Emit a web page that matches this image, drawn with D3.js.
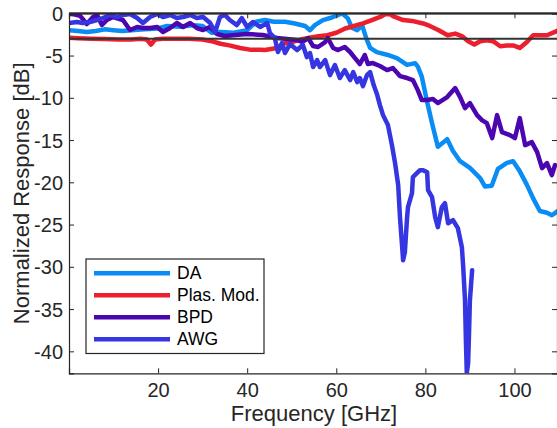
<!DOCTYPE html>
<html>
<head>
<meta charset="utf-8">
<script src="https://cdn.jsdelivr.net/npm/d3@7"></script>
<style>
  body { margin:0; background:#fff; }
  svg { font-family:"Liberation Sans", Arial, sans-serif; }
</style>
</head>
<body>
<div class="chart"></div>
<script>
// [frequency GHz, normalized response dB]
var daData = [[0,-2.0],[2,-2.1],[4,-2.2],[6,-2.1],[8,-1.9],[10,-2.0],[12,-2.1],[14,-2.0],[17,-1.9],[20,-1.8],[22,-1.5],[25,-1.6],[28,-1.4],[30,-1.5],[32,-2.3],[34,-2.2],[37,-2.3],[40,-2.0],[42,-1.0],[44,-0.8],[46,-1.0],[48.5,-1.0],[50.7,-1.2],[53,-1.5],[54.1,-2.0],[55.2,-1.4],[57,-0.8],[59,-0.5],[61.3,0],[62.6,-0.6],[63.5,-1.7],[64.7,-2.0],[65.8,-1.4],[66.7,-2.9],[67.6,-4.1],[69.1,-4.6],[71.4,-4.9],[73.6,-5.3],[75.9,-6.1],[77.7,-5.9],[78.3,-6.3],[79.2,-7.5],[80.4,-10.5],[81.5,-13.0],[82.8,-15.8],[84.9,-14.9],[86.2,-16.3],[87.8,-17.5],[90,-18.3],[92.3,-19.5],[93.4,-20.5],[94.9,-20.4],[96.3,-18.4],[98.3,-17.7],[99.7,-17.5],[101.2,-18.7],[102.8,-20.3],[104.2,-21.9],[105.7,-23.4],[107.3,-23.6],[108.4,-23.9],[110,-23.3]];
var plasData = [[0,-2.9],[2,-2.95],[5,-3.0],[8,-3.05],[11,-3.1],[14,-3.1],[16,-3.0],[17.5,-3.1],[18.4,-3.7],[19.3,-3.1],[21,-3.0],[24,-3.0],[27,-3.0],[30,-3.1],[32,-3.3],[34,-3.6],[36,-3.8],[38.4,-4.1],[40.6,-4.3],[43,-4.3],[44,-4.35],[46.7,-4.1],[48,-3.6],[50,-3.4],[52,-3.1],[54,-2.9],[56,-2.7],[58,-2.6],[60,-2.3],[62,-1.8],[64,-1.5],[66,-1.2],[68,-0.8],[70,-0.4],[71,-0.1],[72,-0.1],[73,-0.4],[75,-0.8],[77,-0.9],[79.5,-1.2],[81,-1.5],[83,-2.0],[85,-2.6],[86.7,-2.4],[88.2,-2.7],[89.6,-3.3],[91,-3.7],[92.3,-3.3],[93.8,-3.2],[95.2,-3.3],[96.8,-3.9],[98.3,-3.8],[99.7,-3.8],[101.2,-4.1],[102.8,-3.4],[104.2,-2.6],[106,-2.6],[107.3,-2.6],[110,-2.0]];
var bpdData = [[0,-0.05],[0.9,-0.1],[2.5,-0.3],[4.0,-1.27],[5.4,-0.44],[6.3,-0.2],[7.4,-1.39],[8.5,-0.79],[9.9,-0.44],[12.1,-0.79],[13.7,-1.98],[15.3,-1.62],[16.6,-1.74],[18.2,-1.74],[19.8,-1.62],[21.1,-2.21],[22.7,-1.74],[24.2,-1.15],[25.6,-1.62],[27.2,-1.15],[28.7,-1.74],[30.1,-1.98],[31.6,-1.62],[33.2,-2.45],[35.0,-2.69],[37.3,-2.57],[40.0,-2.45],[43.5,-2.57],[46.7,-2.93],[48.9,-3.04],[51.2,-3.16],[52.3,-3.4],[53.7,-2.93],[54.8,-3.87],[55.9,-3.99],[57.5,-3.4],[58.1,-2.93],[59.3,-4.11],[60.4,-4.35],[61.9,-3.99],[63.1,-4.58],[64.2,-5.3],[65.3,-6.0],[66.4,-4.94],[67.1,-6.0],[68.2,-5.89],[69.8,-6.24],[71.4,-6.72],[72.7,-6.48],[74.3,-7.43],[75.9,-7.66],[77.2,-7.9],[78.3,-9.09],[79.2,-10.27],[80.4,-10.27],[81.7,-10.15],[82.8,-10.62],[84.9,-9.91],[86.7,-8.85],[87.8,-9.91],[88.9,-11.22],[90.0,-10.62],[91.6,-12.05],[92.7,-12.64],[93.8,-13.0],[95.0,-14.77],[96.1,-12.05],[97.2,-14.06],[99.0,-14.42],[100.1,-14.77],[101.2,-12.4],[102.4,-15.6],[103.9,-15.24],[105.1,-16.43],[106.2,-18.32],[107.3,-17.73],[108.4,-19.15],[109.1,-17.97]];
var awgData = [[0,-1.15],[1.8,-1.03],[3.1,-1.15],[4.7,-1.03],[6.3,-0.79],[7.6,-0.56],[9.2,-0.2],[10.8,-0.44],[12.1,-0.2],[13.7,-0.08],[15.3,-0.56],[16.6,-1.15],[18.2,-0.44],[19.8,-0.08],[21.1,-0.44],[22.7,-0.2],[24.2,-0.56],[25.6,-0.44],[27.2,-0.2],[28.7,-0.56],[30.1,-0.44],[31.7,-1.15],[32.8,-2.21],[33.9,-0.44],[35.0,-0.2],[36.1,-0.79],[37.7,-1.39],[38.8,-0.56],[40.0,-1.62],[41.3,-1.03],[42.9,-1.62],[44.5,-1.15],[45.1,-2.33],[46.2,-2.93],[46.9,-4.58],[47.8,-3.52],[48.5,-4.7],[49.6,-3.64],[51.2,-4.35],[52.5,-3.75],[53.4,-5.18],[54.1,-4.7],[54.8,-6.36],[55.7,-5.53],[56.3,-6.36],[57.5,-5.53],[58.6,-7.31],[59.7,-6.12],[60.8,-7.66],[61.9,-6.72],[63.1,-7.9],[63.8,-6.95],[64.7,-8.14],[65.3,-7.66],[66.0,-8.61],[66.9,-7.31],[67.6,-6.95],[68.4,-8.49],[69.2,-9.68],[69.8,-10.86],[70.5,-12.05],[71.6,-13.23],[72.5,-15.6],[73.2,-17.73],[73.9,-20.34],[74.3,-24.13],[74.8,-27.68],[75.0,-29.22],[75.4,-28.27],[75.9,-24.13],[76.1,-22.94],[77.0,-21.28],[77.2,-19.39],[78.1,-18.92],[78.8,-18.56],[79.5,-18.56],[80.4,-18.8],[80.6,-20.93],[81.5,-21.76],[82.2,-24.13],[82.8,-25.31],[83.7,-22.94],[84.4,-22.47],[85.1,-24.84],[86.2,-24.48],[87.3,-25.43],[88.2,-27.68],[88.5,-30.05],[88.9,-33.96],[89.1,-38.7],[89.3,-42.6],[89.6,-41.4],[89.8,-37.87],[90.0,-33.96],[90.5,-30.4]];

var seriesNames = ["DA", "Plas. Mod.", "BPD", "AWG"];
var xTicks = [20, 40, 60, 80, 100];
var yTicks = [0, -5, -10, -15, -20, -25, -30, -35, -40];
var refLevels = [0, -3];

var colors = ["#0a8cf5", "#ec1f2e", "#4b06b0", "#3535e2"];
var values = { width:557, height:428, left:69, right:559, top:13.3, bottom:373.3 };

var x = d3.scaleLinear().domain([0, 110]).range([values.left, values.right]);
var y = d3.scaleLinear().domain([-42.6, 0]).range([values.bottom, values.top]);

var svg = d3.select('.chart')
            .append('svg')
            .attr("width", values.width)
            .attr("height", values.height);

svg.append("clipPath").attr("id", "plotclip")
   .append("rect")
   .attr("x", values.left).attr("y", values.top)
   .attr("width", values.right - values.left)
   .attr("height", values.bottom - values.top);

var line = d3.line()
             .x(function (d) { return x(d[0]); })
             .y(function (d) { return y(d[1]); });

var allSeries = [daData, plasData, bpdData, awgData];
var lines = svg.append("g").attr("clip-path", "url(#plotclip)");
allSeries.forEach(function (s, i) {
  lines.append("path")
       .datum(s)
       .attr("d", line)
       .attr("fill", "none")
       .attr("stroke", colors[i])
       .attr("stroke-width", 4.5)
       .attr("stroke-linejoin", "round")
       .attr("stroke-linecap", "round");
});

// reference levels at 0 and -3 dB
svg.selectAll(".ref")
   .data(refLevels)
   .enter()
   .append("line")
   .attr("class", "ref")
   .attr("x1", values.left).attr("x2", values.right)
   .attr("y1", function (d) { return y(d); })
   .attr("y2", function (d) { return y(d); })
   .attr("stroke", "#333")
   .attr("stroke-width", 2);

// axes, ticks pointing inwards like matlab
var fmt = function (d) { return String(d); };
var axisCol = "#262626";
var xAxis = d3.axisBottom(x).tickValues(xTicks).tickSize(-5).tickPadding(10).tickFormat(fmt);
var yAxis = d3.axisLeft(y).tickValues(yTicks).tickSize(-5).tickPadding(6).tickFormat(fmt);

var gx = svg.append("g")
            .attr("transform", "translate(0," + values.bottom + ")")
            .call(xAxis);
var gy = svg.append("g")
            .attr("transform", "translate(" + values.left + ",0)")
            .call(yAxis);
var gt = svg.append("g")
            .attr("transform", "translate(0," + values.top + ")")
            .call(d3.axisTop(x).tickValues(xTicks).tickSize(-5).tickFormat(""));
var gr = svg.append("g")
            .attr("transform", "translate(" + (values.right - 2) + ",0)")
            .call(d3.axisRight(y).tickValues(yTicks).tickSize(-5).tickFormat(""));

[gx, gy, gt, gr].forEach(function (g) {
  g.select(".domain").attr("stroke", axisCol).attr("stroke-width", 1.2);
  g.selectAll(".tick line").attr("stroke", axisCol);
  g.selectAll("text").attr("fill", axisCol).style("font-size", "20px")
   .style("font-family", '"Liberation Sans", Arial, sans-serif');
});
gy.selectAll("text").attr("dy", "0.35em");

// axis labels
svg.append("text")
   .attr("x", (values.left + values.right) / 2)
   .attr("y", 421)
   .attr("text-anchor", "middle")
   .attr("fill", axisCol)
   .style("font-size", "22px")
   .text("Frequency [GHz]");

svg.append("text")
   .attr("transform", "translate(28.5," + ((values.top + values.bottom) / 2) + ") rotate(-90)")
   .attr("text-anchor", "middle")
   .attr("fill", axisCol)
   .style("font-size", "22px")
   .text("Normalized Response [dB]");

// legend
var legend = svg.append("g");
legend.append("rect")
      .attr("x", 86).attr("y", 259)
      .attr("width", 178).attr("height", 94.5)
      .attr("fill", "#fff")
      .attr("stroke", axisCol)
      .attr("stroke-width", 1.2);
seriesNames.forEach(function (name, i) {
  var ly = 273.3 + i * 22;
  legend.append("line")
        .attr("x1", 94).attr("x2", 170)
        .attr("y1", ly).attr("y2", ly)
        .attr("stroke", colors[i])
        .attr("stroke-width", 4.5);
  legend.append("text")
        .attr("x", 177).attr("y", ly)
        .attr("dy", "0.35em")
        .attr("fill", "#000")
        .style("font-size", "17.5px")
        .text(name);
});
</script>
</body>
</html>
